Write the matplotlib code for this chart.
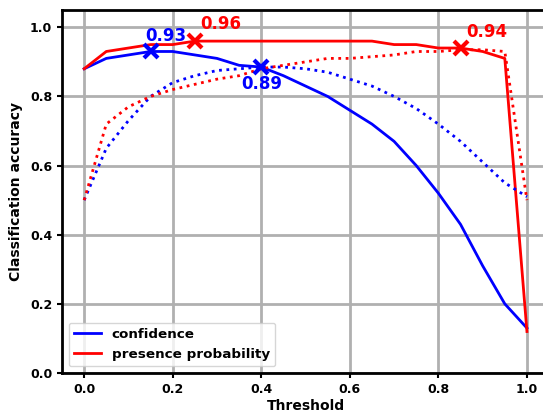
import matplotlib
matplotlib.use("Agg")
import matplotlib.pyplot as plt
import numpy as np

thresholds = np.round(np.arange(0, 1.0001, 0.05), 2)

# solid lines
conf_acc = [0.88, 0.91, 0.92, 0.93, 0.93, 0.92, 0.91, 0.89, 0.885, 0.86, 0.83,
            0.80, 0.76, 0.72, 0.67, 0.60, 0.52, 0.43, 0.31, 0.20, 0.13]
pres_acc = [0.88, 0.93, 0.94, 0.95, 0.95, 0.96, 0.96, 0.96, 0.96, 0.96, 0.96,
            0.96, 0.96, 0.96, 0.95, 0.95, 0.94, 0.94, 0.93, 0.91, 0.12]

# dotted lines
conf_dot = [0.50, 0.65, 0.73, 0.80, 0.84, 0.86, 0.875, 0.88, 0.885, 0.885, 0.88,
            0.87, 0.85, 0.83, 0.80, 0.765, 0.72, 0.67, 0.61, 0.55, 0.51]
pres_dot = [0.50, 0.72, 0.77, 0.80, 0.82, 0.835, 0.85, 0.86, 0.88, 0.89, 0.90,
            0.91, 0.91, 0.915, 0.92, 0.93, 0.93, 0.935, 0.935, 0.93, 0.50]

# marked points: (x, y, label, colour, offset, ha, va)
marks = [(0.15, 0.93, "0.93", "blue", (-4, 5), "left", "bottom"),
         (0.40, 0.885, "0.89", "blue", (0, -6), "center", "top"),
         (0.25, 0.96, "0.96", "red", (4, 6), "left", "bottom"),
         (0.85, 0.94, "0.94", "red", (4, 5), "left", "bottom")]

fig = plt.figure(figsize=(5.43, 4.15), dpi=100)
ax = fig.add_axes([0.1142, 0.1012, 0.897, 0.8747])

ax.plot(thresholds, conf_acc, color="blue", lw=2, label="confidence")
ax.plot(thresholds, pres_acc, color="red", lw=2, label="presence probability")
ax.plot(thresholds, conf_dot, color="blue", lw=2, ls=":")
ax.plot(thresholds, pres_dot, color="red", lw=2, ls=":")

for x, y, txt, c, off, ha, va in marks:
	ax.plot(x, y, marker="x", color=c, markersize=10, mew=3)
	ax.annotate(txt, (x, y), xytext=off, textcoords="offset points",
	            color=c, fontsize=12, fontweight="bold", ha=ha, va=va)

ax.set_xlim(-0.05, 1.05)
ax.set_ylim(0, 1.05)
ax.set_xticks([0.0, 0.2, 0.4, 0.6, 0.8, 1.0])
ax.set_yticks([0.0, 0.2, 0.4, 0.6, 0.8, 1.0])
ax.grid(True, color="#b0b0b0", lw=2)
ax.set_axisbelow(True)

for lab in ax.get_xticklabels() + ax.get_yticklabels():
	lab.set_fontweight("bold")
	lab.set_fontsize(9)
ax.tick_params(width=1.5)
for s in ax.spines.values():
	s.set_linewidth(2)

ax.set_xlabel("Threshold", fontsize=10, fontweight="bold", labelpad=2)
ax.set_ylabel("Classification accuracy", fontsize=10, fontweight="bold", labelpad=5)

leg = ax.legend(loc="lower left", prop={"weight": "bold", "size": 9.7})

fig.savefig("out.png", dpi=100)
